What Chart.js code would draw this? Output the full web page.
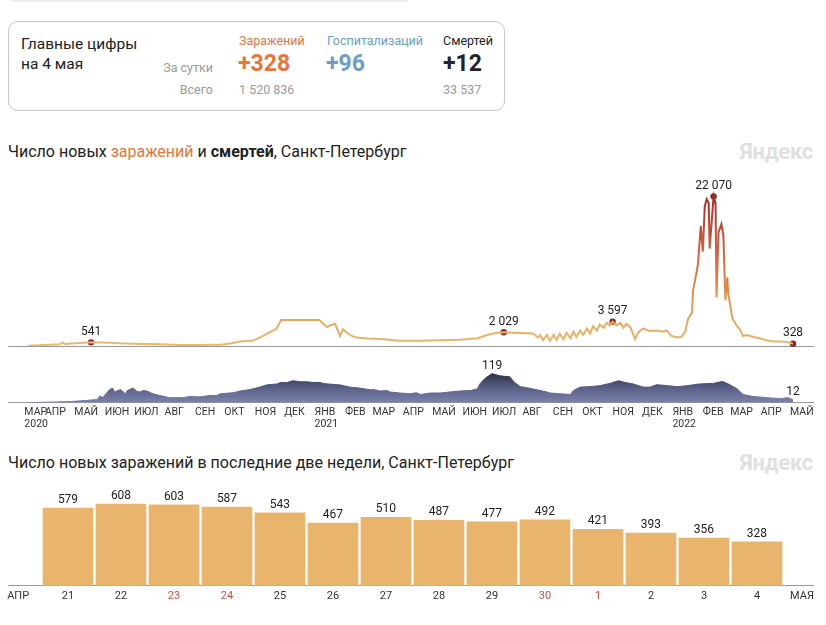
<!DOCTYPE html>
<html lang="ru">
<head>
<meta charset="utf-8">
<title>Коронавирус, Санкт-Петербург</title>
<script src="https://cdn.jsdelivr.net/npm/chart.js@4.4.1/dist/chart.umd.min.js"></script>
<style>
  html, body { margin: 0; padding: 0; background: #fff; }
  body { width: 826px; height: 625px; position: relative; overflow: hidden;
         font-family: Roboto, "Noto Sans", sans-serif; color: #222; }
  .abs { position: absolute; white-space: nowrap; }
  .topbar { left: 10px; top: 0; width: 398px; height: 2px; background: #eee; }
  .card { left: 8px; top: 21px; width: 497px; height: 90px; box-sizing: border-box;
          border: 1px solid #c6c6c6; border-radius: 10px; }
  .head { left: 21px; top: 34px; font-size: 15.5px; line-height: 20px; color: #222; }
  .lbl { font-size: 12.5px; line-height: 16px; }
  .big { font-size: 23px; line-height: 28px; font-weight: 700; }
  .gray { color: #9a9a9a; }
  .orange { color: #e8743b; }
  .blue { color: #6d9ec2; }
  .dark { color: #1f2233; }
  .title { left: 8px; font-size: 16px; line-height: 20px; color: #222; }
  .brand { right: 13px; font-size: 22px; line-height: 24px; font-weight: 700; color: #e0e0e0; letter-spacing: -0.3px; }
  canvas { position: absolute; left: 0; }
</style>
</head>
<body>
<div class="abs topbar"></div>
<div class="abs card"></div>
<div class="abs head">Главные цифры<br>на 4 мая</div>
<div class="abs lbl gray" style="right:613px; top:60px;">За сутки</div>
<div class="abs lbl gray" style="right:613px; top:82px;">Всего</div>

<div class="abs lbl orange" style="left:239px; top:33px;">Заражений</div>
<div class="abs big orange" style="left:238px; top:50px;">+328</div>
<div class="abs lbl gray" style="left:239px; top:82px;">1 520 836</div>

<div class="abs lbl blue" style="left:327px; top:33px;">Госпитализаций</div>
<div class="abs big blue" style="left:326px; top:50px;">+96</div>

<div class="abs lbl" style="left:443px; top:33px; color:#222;">Смертей</div>
<div class="abs big dark" style="left:443px; top:50px;">+12</div>
<div class="abs lbl gray" style="left:443px; top:82px;">33 537</div>

<div class="abs title" style="top:142px;">Число новых <span class="orange">заражений</span> и <b>смертей</b>, Санкт-Петербург</div>
<div class="abs brand" style="top:140px;">Яндекс</div>

<canvas id="infChart" width="826" height="180" style="top:170px;"></canvas>
<canvas id="deathChart" width="826" height="79" style="top:355px;"></canvas>

<div class="abs title" style="top:453px;">Число новых заражений в последние две недели, Санкт-Петербург</div>
<div class="abs brand" style="top:451px;">Яндекс</div>

<canvas id="barChart" width="826" height="122" style="top:485px;"></canvas>

<script>
// days are counted from 1 March 2020 (day 0)
const infDays = [
  14, 26, 36, 46, 49, 52, 57, 67, 78, 87,
  97, 107, 128, 148, 169, 189, 200, 210, 220, 230,
  243, 250, 267, 272, 281, 295, 311, 314, 319, 322,
  327, 332, 335, 339, 344, 349, 360, 373, 393, 414,
  434, 454, 472, 482, 492, 499, 508, 529, 534, 536,
  539, 543, 546, 550, 553, 556, 560, 563, 567, 570,
  573, 577, 580, 584, 587, 590, 594, 597, 601, 604,
  607, 610, 614, 618, 621, 624, 628, 633, 636, 641,
  648, 655, 662, 665, 670, 675, 680, 684, 687, 691,
  692, 694, 697, 700, 702, 704, 706, 708, 709, 711,
  713, 715, 716, 718, 721, 723, 725, 727, 728, 732,
  733, 737, 740, 743, 747, 754, 760, 767, 774, 781,
  788, 794
];
const infCases = [
  50, 120, 200, 240, 530, 260, 380, 450, 541, 500,
  480, 390, 290, 240, 145, 150, 170, 190, 380, 650,
  800, 1240, 2540, 3820, 3820, 3830, 3820, 3400, 2770, 3060,
  3250, 1480, 2440, 1960, 1480, 1240, 1100, 1050, 760, 760,
  860, 910, 1150, 1620, 1960, 2029, 1960, 1860, 1240, 1625,
  860, 1625, 765, 1625, 860, 1815, 1000, 1960, 1150, 2100,
  1340, 2295, 1625, 2580, 1815, 2915, 2295, 3155, 2680, 3395,
  3060, 3597, 3060, 3395, 2680, 3250, 2770, 1000, 1960, 2580,
  2200, 2295, 2100, 2295, 1480, 1300, 1340, 2100, 4000, 4950,
  8170, 9600, 12000, 17700, 13900, 20600, 21640, 21070, 14370, 18200,
  22070, 21070, 7210, 16770, 17960, 16290, 6740, 10080, 7690, 4200,
  3870, 2915, 2440, 1480, 1625, 1340, 1150, 860, 670, 670,
  575, 328
];
const infMarkDays = [78, 499, 610, 713, 794];
const infMarkCases = [541, 2029, 3597, 22070, 328];

const deathDays = [
  14, 39, 57, 74, 84, 85, 87, 90, 97, 100,
  102, 108, 113, 115, 121, 125, 128, 131, 135, 141,
  148, 155, 158, 172, 179, 189, 199, 206, 210, 223,
  230, 240, 250, 257, 268, 271, 278, 281, 284, 291,
  294, 301, 304, 312, 315, 322, 332, 342, 352, 363,
  366, 373, 380, 383, 393, 403, 410, 414, 424, 434,
  444, 454, 465, 472, 475, 480, 487, 495, 505, 510,
  516, 523, 533, 543, 546, 556, 567, 570, 577, 587,
  597, 607, 616, 623, 631, 641, 648, 655, 666, 676,
  686, 699, 712, 722, 728, 737, 743, 753, 767, 781,
  789, 792, 794
];
const deathCounts = [
  1, 3, 5, 10, 13, 17, 28, 22, 54, 60,
  44, 54, 37, 50, 60, 46, 44, 50, 48, 37,
  30, 24, 21, 21, 26, 24, 30, 30, 37, 41,
  48, 54, 64, 73, 77, 83, 83, 87, 90, 86,
  86, 85, 83, 83, 79, 76, 73, 64, 60, 53,
  54, 48, 50, 44, 40, 37, 41, 34, 40, 40,
  44, 48, 50, 57, 79, 100, 119, 110, 106, 83,
  66, 61, 53, 44, 40, 37, 34, 50, 64, 66,
  70, 79, 90, 83, 77, 64, 64, 74, 70, 66,
  70, 77, 79, 87, 77, 57, 34, 26, 21, 17,
  21, 16, 12
];
const deathMarkDays = [487, 794];
const deathMarkCounts = [119, 12];

const monthDays = [10, 31, 61, 92, 122, 153, 184, 214, 245, 275, 306, 337, 365,
  396, 426, 457, 487, 518, 549, 579, 610, 640, 671, 702, 730, 761, 791];
const monthLabels = ['МАР', 'АПР', 'МАЙ', 'ИЮН', 'ИЮЛ', 'АВГ', 'СЕН', 'ОКТ', 'НОЯ', 'ДЕК',
  'ЯНВ', 'ФЕВ', 'МАР', 'АПР', 'МАЙ', 'ИЮН', 'ИЮЛ', 'АВГ', 'СЕН', 'ОКТ', 'НОЯ', 'ДЕК',
  'ЯНВ', 'ФЕВ', 'МАР', 'АПР', 'МАЙ'];
const yearLabels = { 0: '2020', 10: '2021', 22: '2022' };

const barDays = ['21', '22', '23', '24', '25', '26', '27', '28', '29', '30', '1', '2', '3', '4'];
const barCases = [579, 608, 603, 587, 543, 467, 510, 487, 477, 492, 421, 393, 356, 328];
const barWeekend = ['23', '24', '30', '1'];
const barEdgeLabels = ['АПР', 'МАЯ'];

Chart.defaults.font.family = 'Roboto, "Noto Sans", sans-serif';
Chart.defaults.animation = false;

const fmt = v => String(v).replace(/\B(?=(\d{3})+(?!\d))/g, ' ');

// same horizontal range for both timeline charts
const dayMin = -6.7, dayMax = 814.4;

function markPlugin(days, values, gap) {
  return {
    id: 'marks',
    afterDatasetsDraw(chart) {
      const { ctx, scales: { x, y } } = chart;
      ctx.save();
      ctx.font = '12px Roboto, "Noto Sans", sans-serif';
      ctx.fillStyle = '#222';
      ctx.textAlign = 'center';
      ctx.textBaseline = 'middle';
      days.forEach((d, i) => {
        ctx.fillText(fmt(values[i]), x.getPixelForValue(d), y.getPixelForValue(values[i]) - gap);
      });
      ctx.restore();
    }
  };
}

function infStroke(context) {
  const chart = context.chart;
  const area = chart.chartArea;
  if (!area) return '#e8b46a';
  const g = chart.ctx.createLinearGradient(0, area.bottom, 0, area.top);
  g.addColorStop(0, '#e9b86e');
  g.addColorStop(0.1, '#e8ae63');
  g.addColorStop(0.3, '#e4904c');
  g.addColorStop(0.55, '#d4603a');
  g.addColorStop(0.75, '#bc3e2e');
  g.addColorStop(0.88, '#9c2b29');
  g.addColorStop(1, '#8a2626');
  return g;
}

function deathFill(context) {
  const chart = context.chart;
  const area = chart.chartArea;
  if (!area) return '#5a5f85';
  const g = chart.ctx.createLinearGradient(0, area.bottom, 0, area.top);
  g.addColorStop(0, '#7c82aa');
  g.addColorStop(0.35, '#5b6088');
  g.addColorStop(0.6, '#3a3d58');
  g.addColorStop(0.75, '#23253a');
  g.addColorStop(1, '#1a1b2a');
  return g;
}

new Chart(document.getElementById('infChart'), {
  type: 'line',
  data: {
    datasets: [
      {
        data: infDays.map((d, i) => ({ x: d, y: infCases[i] })),
        borderColor: infStroke,
        borderWidth: 2,
        pointRadius: 0,
        tension: 0,
        fill: false
      },
      {
        data: infMarkDays.map((d, i) => ({ x: d, y: infMarkCases[i] })),
        showLine: false,
        pointRadius: 3.2,
        pointBorderWidth: 0,
        pointBackgroundColor: '#8c2424',
        clip: false
      }
    ]
  },
  options: {
    responsive: false,
    layout: { padding: { left: 8, right: 13, top: 0, bottom: 3 } },
    plugins: { legend: { display: false }, tooltip: { enabled: false } },
    scales: {
      x: {
        type: 'linear', min: dayMin, max: dayMax,
        grid: { display: false, drawTicks: false },
        border: { display: true, color: '#9a9a9a', width: 1 },
        ticks: { display: false }
      },
      y: { display: false, min: 0, max: 25366 }
    }
  },
  plugins: [markPlugin(infMarkDays, infMarkCases, 10.5)]
});

new Chart(document.getElementById('deathChart'), {
  type: 'line',
  data: {
    datasets: [{
      data: deathDays.map((d, i) => ({ x: d, y: deathCounts[i] })),
      borderColor: deathFill,
      backgroundColor: deathFill,
      borderWidth: 1,
      pointRadius: 0,
      tension: 0,
      fill: 'origin'
    }]
  },
  options: {
    responsive: false,
    layout: { padding: { left: 8, right: 13, top: 6, bottom: 0 } },
    plugins: { legend: { display: false }, tooltip: { enabled: false } },
    scales: {
      x: {
        type: 'linear', min: dayMin, max: dayMax,
        grid: { display: false, drawTicks: false },
        border: { display: true, color: '#9a9a9a', width: 1 },
        afterBuildTicks: scale => { scale.ticks = monthDays.map(v => ({ value: v })); },
        ticks: {
          autoSkip: false, maxRotation: 0, minRotation: 0, align: 'start', padding: 3,
          color: '#333', font: { size: 10.5 },
          callback: (v, i) => yearLabels[i] ? [monthLabels[i], yearLabels[i]] : monthLabels[i]
        }
      },
      y: { display: false, min: 0, max: 170.6 }
    }
  },
  plugins: [markPlugin(deathMarkDays, deathMarkCounts, 8)]
});

const barValueLabels = {
  id: 'barValues',
  afterDatasetsDraw(chart) {
    const { ctx } = chart;
    const meta = chart.getDatasetMeta(0);
    ctx.save();
    ctx.font = '12px Roboto, "Noto Sans", sans-serif';
    ctx.fillStyle = '#222';
    ctx.textAlign = 'center';
    ctx.textBaseline = 'alphabetic';
    meta.data.forEach((bar, i) => ctx.fillText(fmt(barCases[i]), bar.x, bar.y - 5));
    ctx.restore();
  }
};

// bar slots: 53px each, first bar centre 60px from the left of the axis
const barMin = -0.132, barMax = 15.057;
new Chart(document.getElementById('barChart'), {
  type: 'bar',
  data: {
    datasets: [{
      data: barCases.map((v, i) => ({ x: i + 1, y: v })),
      backgroundColor: '#e9b46b',
      borderWidth: 0,
      barThickness: 50
    }]
  },
  options: {
    responsive: false,
    layout: { padding: { left: 8, right: 13, top: 0, bottom: 0 } },
    plugins: { legend: { display: false }, tooltip: { enabled: false } },
    scales: {
      x: {
        type: 'linear', min: barMin, max: barMax, offset: false,
        grid: { display: false, drawTicks: false },
        border: { display: true, color: '#9a9a9a', width: 1 },
        afterBuildTicks: scale => {
          scale.ticks = [{ value: 0.06 }]
            .concat(barDays.map((_, i) => ({ value: i + 1 })))
            .concat([{ value: 14.85 }]);
        },
        ticks: {
          autoSkip: false, maxRotation: 0, minRotation: 0, padding: 4,
          font: { size: 11 },
          color: c => {
            const i = c.index;
            if (i === 0 || i > barDays.length) return '#333';
            return barWeekend.includes(barDays[i - 1]) ? '#d24a3c' : '#333';
          },
          callback: (v, i) => i === 0 ? barEdgeLabels[0] : (i > barDays.length ? barEdgeLabels[1] : barDays[i - 1])
        }
      },
      y: { display: false, min: 0, max: 750.6 }
    }
  },
  plugins: [barValueLabels]
});
</script>
</body>
</html>
